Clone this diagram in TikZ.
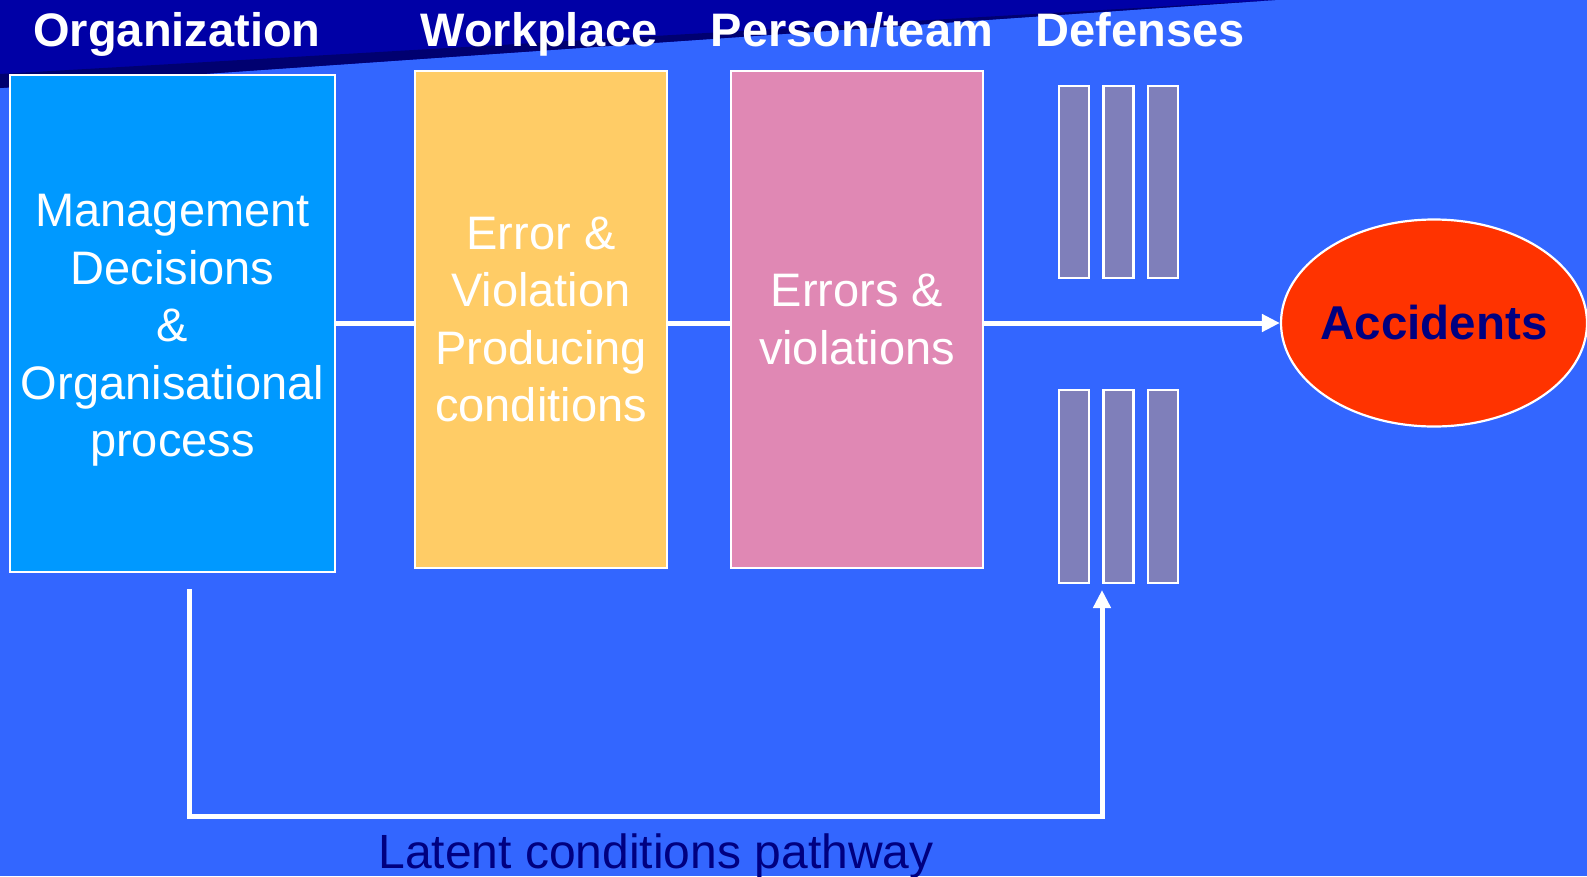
\documentclass[tikz,border=0pt]{standalone}
\usepackage{fontspec}
\setmainfont{Liberation Sans}
\usetikzlibrary{arrows.meta,shapes.geometric}

\definecolor{bgblue}{HTML}{3366FF}
\definecolor{bandnavy}{HTML}{0000A6}
\definecolor{banddark}{HTML}{000070}
\definecolor{orgblue}{HTML}{0099FF}
\definecolor{workyellow}{HTML}{FFCC66}
\definecolor{personpink}{HTML}{E088B4}
\definecolor{barviolet}{HTML}{7F7FBA}
\definecolor{accred}{HTML}{FF3300}
\definecolor{textnavy}{HTML}{000080}

\tikzset{
  heading/.style={font=\fontsize{47}{56}\selectfont\bfseries, text=white, anchor=base, inner sep=0pt},
  stagebox/.style={draw=white, line width=2.5pt, inner sep=0pt},
  stagetext/.style={align=center, text=white, font=\fontsize{47}{57.5}\selectfont, inner sep=0pt},
  barrier/.style={draw=white, line width=2.2pt, fill=barviolet, inner sep=0pt},
  flow/.style={draw=white, line width=5pt},
  tip/.style={-{Triangle[length=18pt,width=17pt]}},
}

\begin{document}
\begin{tikzpicture}[x=1pt, y=-1pt]
  \useasboundingbox (0,0) rectangle (1587,876);
  \fill[bgblue] (0,0) rectangle (1587,876);

  % title band across the top left
  \fill[bandnavy] (0,0) -- (1275,0) -- (0,88) -- cycle;
  \fill[banddark] (0,74) -- (1275,0) -- (0,88) -- cycle;

  % column headings
  \node[heading] (hOrg)  at (177,46)  {Organization};
  \node[heading] (hWork) at (539,46)  {Workplace};
  \node[heading] (hPers) at (852,46)  {Person/team};
  \node[heading] (hDef)  at (1140,46) {Defenses};

  % stages
  \node[stagebox, fill=orgblue, minimum width=325pt, minimum height=497pt] (org) at (172.5,323.5) {};
  \node[stagebox, fill=workyellow, minimum width=252pt, minimum height=497pt] (work) at (541,319.5) {};
  \node[stagebox, fill=personpink, minimum width=252pt, minimum height=497pt] (pers) at (857,319.5) {};
  \node[stagetext] (orgText) at ([yshift=-7pt]org.center) {Management\\Decisions\\\&\\Organisational\\process};
  \node[stagetext] (workText) at (work.center) {Error \&\\Violation\\Producing\\conditions};
  \node[stagetext] (persText) at (pers.center) {Errors \&\\violations};

  % defensive barriers
  \foreach \x/\n in {1074/a,1118.5/b,1163/c}{
    \node[barrier, minimum width=30pt, minimum height=192pt] (top\n) at (\x,182) {};
    \node[barrier, minimum width=30pt, minimum height=193pt] (bot\n) at (\x,486.5) {};
  }

  % outcome
  \node[ellipse, draw=white, line width=2.2pt, fill=accred, minimum width=306pt,
    minimum height=207pt, inner sep=0pt] (acc) at (1434,323) {};
  \node[text=textnavy, font=\fontsize{47.5}{57}\selectfont\bfseries, inner sep=0pt]
    (accText) at (acc.center) {Accidents};

  % active failure path
  \draw[flow] (org.east |- acc.west) -- (work.west |- acc.west);
  \draw[flow] (work.east |- acc.west) -- (pers.west |- acc.west);
  \draw[flow, tip] (pers.east |- acc.west) -- (acc.west);

  % latent conditions path
  \coordinate (latStart) at (189,589);
  \coordinate (latEnd) at (1102,590);
  \draw[flow, tip] (latStart) -- (189,816) -- (1102,816) -- (latEnd);
  \node[font=\fontsize{48}{57}\selectfont, text=textnavy, anchor=base, inner sep=0pt]
    (latent) at (656,868) {Latent conditions pathway};
\end{tikzpicture}
\end{document}
